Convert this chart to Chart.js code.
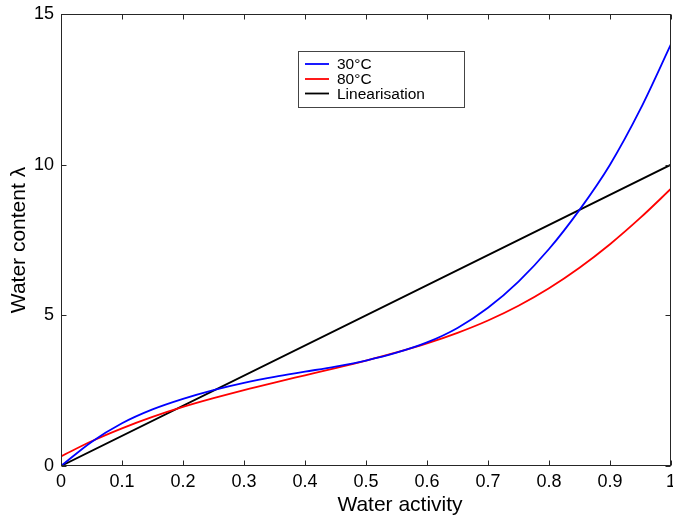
<!DOCTYPE html>
<html><head><meta charset="utf-8">
<script src="https://cdn.jsdelivr.net/npm/chart.js@4.4.0/dist/chart.umd.min.js"></script>
<style>html,body{margin:0;padding:0;background:#fff;}#wrap{width:673px;height:519px;}</style>
</head><body><div id="wrap"><canvas id="c" width="673" height="519"></canvas></div>
<script>
const waterActivity = [0,0.05,0.1,0.15,0.2,0.25,0.3,0.35,0.4,0.45,0.5,0.55,0.6,0.65,0.7,0.75,0.8,0.85,0.9,0.95,1.0];
const lambda30C = [0,0.8,1.42,1.88,2.23,2.52,2.76,2.96,3.13,3.3,3.5,3.76,4.1,4.58,5.25,6.12,7.2,8.5,10.0,11.85,14.0];
const lambda80C = [0.32,0.82,1.25,1.63,1.96,2.25,2.52,2.77,3.01,3.25,3.5,3.77,4.07,4.42,4.83,5.32,5.9,6.58,7.36,8.24,9.2];
const linearisationX = [0,1];
const linearisationY = [0,10];
const xTicks = [0,0.1,0.2,0.3,0.4,0.5,0.6,0.7,0.8,0.9,1];
const yTicks = [0,5,10,15];
const seriesLabels = ['30\u00B0C','80\u00B0C','Linearisation'];
const seriesColors = ['#0000ff','#ff0000','#000000'];
const xTitle = 'Water activity';
const yTitle = 'Water content \u03BB';

const FONT = "'Liberation Sans', Arial, Helvetica, sans-serif";
const pts = (xs, ys) => xs.map((v, i) => ({x: v, y: ys[i]}));

const framePlugin = {
  id: 'frame',
  afterDraw(chart) {
    const {ctx, chartArea: {left, right, top, bottom}, scales: {x, y}} = chart;
    const L = Math.round(left) + 0.5, R = Math.round(right) - 0.5, T = Math.round(top) + 0.5, B = Math.round(bottom) - 0.5;
    ctx.save();
    ctx.strokeStyle = '#262626';
    ctx.lineWidth = 1;
    ctx.strokeRect(L, T, R - L, B - T);
    const tl = 5;
    ctx.beginPath();
    x.ticks.forEach(t => {
      const px = Math.round(x.getPixelForValue(t.value)) + 0.5;
      ctx.moveTo(px, B); ctx.lineTo(px, B - tl);
      ctx.moveTo(px, T); ctx.lineTo(px, T + tl);
    });
    y.ticks.forEach(t => {
      const py = Math.round(y.getPixelForValue(t.value)) + 0.5;
      ctx.moveTo(L, py); ctx.lineTo(L + tl, py);
      ctx.moveTo(R, py); ctx.lineTo(R - tl, py);
    });
    ctx.stroke();

    // legend box
    const bx = 298.5, by = 51.5, bw = 166, bh = 56;
    ctx.fillStyle = '#fff';
    ctx.fillRect(bx, by, bw, bh);
    ctx.strokeStyle = '#444';
    ctx.strokeRect(bx, by, bw, bh);
    const rows = [64, 79, 93.5];
    ctx.font = '15.5px ' + FONT;
    ctx.textBaseline = 'middle';
    ctx.textAlign = 'left';
    chart.data.datasets.forEach((ds, i) => {
      ctx.strokeStyle = ds.borderColor;
      ctx.lineWidth = 1.8;
      ctx.beginPath();
      ctx.moveTo(305, rows[i]); ctx.lineTo(329, rows[i]);
      ctx.stroke();
      ctx.fillStyle = '#000';
      ctx.fillText(ds.label, 337, rows[i] + 1);
    });

    // x-axis title
    ctx.font = '21px ' + FONT;
    ctx.textAlign = 'center';
    ctx.textBaseline = 'middle';
    ctx.fillStyle = '#000';
    ctx.fillText(xTitle, 400, 505);
    ctx.restore();
  }
};

new Chart(document.getElementById('c'), {
  type: 'line',
  data: {
    datasets: [
      {label: seriesLabels[0], data: pts(waterActivity, lambda30C), borderColor: seriesColors[0]},
      {label: seriesLabels[1], data: pts(waterActivity, lambda80C), borderColor: seriesColors[1]},
      {label: seriesLabels[2], data: pts(linearisationX, linearisationY), borderColor: seriesColors[2]}
    ].map(d => Object.assign(d, {borderWidth: 1.8, pointRadius: 0, fill: false, cubicInterpolationMode: 'monotone'}))
  },
  options: {
    responsive: false,
    animation: false,
    devicePixelRatio: 1,
    layout: {autoPadding: false, padding: {top: 14, right: 2, bottom: 0, left: 0}},
    plugins: {legend: {display: false}, tooltip: {enabled: false}},
    scales: {
      x: {
        type: 'linear', min: 0, max: 1,
        afterBuildTicks: s => { s.ticks = xTicks.map(v => ({value: v})); },
        afterFit: s => { s.height = 53; s.paddingLeft = 0; s.paddingRight = 0; },
        grid: {display: false, drawTicks: false},
        border: {display: false},
        ticks: {padding: 5, color: '#000', font: {family: FONT, size: 18}, maxRotation: 0, autoSkip: false,
                callback: v => String(v)}
      },
      y: {
        type: 'linear', min: 0, max: 15,
        afterBuildTicks: s => { s.ticks = yTicks.map(v => ({value: v})); },
        afterFit: s => { s.width = 61; s.paddingTop = 0; s.paddingBottom = 0; },
        grid: {display: false, drawTicks: false},
        border: {display: false},
        ticks: {padding: 7, color: '#000', font: {family: FONT, size: 18}, autoSkip: false},
        title: {display: true, text: yTitle, color: '#000', font: {family: FONT, size: 21}, padding: {top: 7, bottom: 0}}
      }
    }
  },
  plugins: [framePlugin]
});
</script></body></html>
